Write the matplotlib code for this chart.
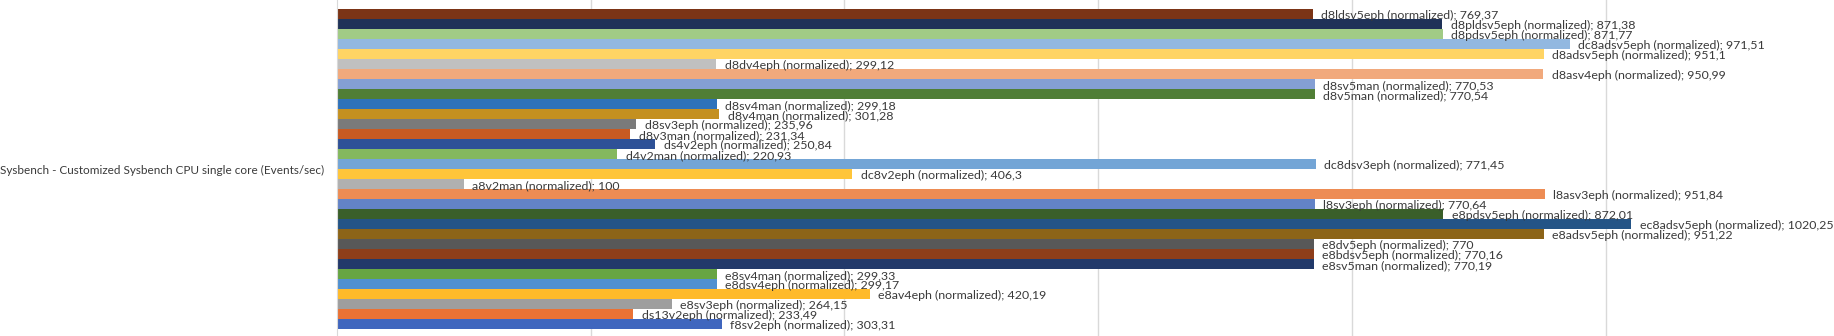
"""Sysbench single-core CPU results (normalized) as one grouped horizontal bar
cluster, Excel-style: contiguous coloured bars with value labels at the ends."""

import matplotlib
matplotlib.use("Agg")
import matplotlib.pyplot as plt
import numpy as np

CATEGORY = "Sysbench - Customized Sysbench CPU single core (Events/sec)"

# top to bottom as they appear in the chart
SERIES = [
    "d8ldsv5eph", "d8pldsv5eph", "d8pdsv5eph", "dc8adsv5eph", "d8adsv5eph",
    "d8dv4eph", "d8asv4eph", "d8sv5man", "d8v5man", "d8sv4man", "d8v4man",
    "d8sv3eph", "d8v3man", "ds4v2eph", "d4v2man", "dc8dsv3eph", "dc8v2eph",
    "a8v2man", "l8asv3eph", "l8sv3eph", "e8pdsv5eph", "ec8adsv5eph",
    "e8adsv5eph", "e8dv5eph", "e8bdsv5eph", "e8sv5man", "e8sv4man",
    "e8dsv4eph", "e8av4eph", "e8sv3eph", "ds13v2eph", "f8sv2eph",
]

VALUES = [
    769.37, 871.38, 871.77, 971.51, 951.1,
    299.12, 950.99, 770.53, 770.54, 299.18, 301.28,
    235.96, 231.34, 250.84, 220.93, 771.45, 406.3,
    100, 951.84, 770.64, 872.01, 1020.25,
    951.22, 770, 770.16, 770.19, 299.33,
    299.17, 420.19, 264.15, 233.49, 303.31,
]

COLORS = [
    "#7b3416", "#1f3258", "#a1cb85", "#92b8e0", "#ffd464",
    "#c0c0c0", "#f1a97c", "#849fd4", "#507e36", "#2e72ba", "#c49020",
    "#7a7a7a", "#c85a22", "#2e5197", "#84b85e", "#73a5d6", "#ffc53a",
    "#b0b0b0", "#ed8c54", "#6383c6", "#3a5f2a", "#245486",
    "#8c6418", "#585858", "#8e3e1a", "#22396a", "#67a543",
    "#5090d0", "#ffba2a", "#9e9e9e", "#ea7234", "#4066be",
]

TEXT = "#3a3a3a"
GRID = "#d9d9d9"

plt.rcParams["font.family"] = ["Lato", "DejaVu Sans"]


def fmt(v):
    return f"{v:g}".replace(".", ",")


def main():
    n = len(SERIES)
    fig = plt.figure(figsize=(18.34, 3.36), dpi=100)
    ax = fig.add_axes([337 / 1834, 0, 1 - 337 / 1834, 1])

    y = np.arange(n)
    ax.barh(y, VALUES, height=1.0, color=COLORS, zorder=2)

    for yi, name, v in zip(y, SERIES, VALUES):
        ax.annotate(f"{name} (normalized); {fmt(v)}", (v, yi),
                    xytext=(6, -1.3), textcoords="offset points",
                    ha="left", va="center", fontsize=8.9, color=TEXT, zorder=3)

    ax.set_xlim(0, 1180)
    ax.set_ylim(n - 0.5 + 0.7, -0.5 - 0.9)
    ax.set_xticks(np.arange(200, 1200, 200))
    ax.xaxis.grid(True, color=GRID, linewidth=1)
    ax.tick_params(axis="x", length=0, labelbottom=False)

    ax.set_yticks([(n - 1) / 2])
    ax.set_yticklabels([CATEGORY], fontsize=8.5, color=TEXT)
    ax.tick_params(axis="y", length=0, pad=9)

    for s in ("top", "right", "bottom"):
        ax.spines[s].set_visible(False)
    ax.spines["left"].set_color(GRID)
    ax.spines["left"].set_zorder(4)

    fig.savefig("out.png", dpi=100)
    plt.close(fig)


if __name__ == "__main__":
    main()
